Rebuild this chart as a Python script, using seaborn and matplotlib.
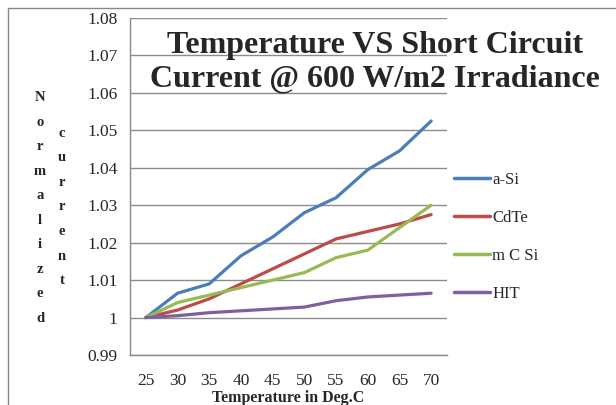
import matplotlib
matplotlib.use("Agg")
import matplotlib.pyplot as plt
import matplotlib.patches as mpatches
import seaborn as sns
import pandas as pd
import numpy as np

temps = [25, 30, 35, 40, 45, 50, 55, 60, 65, 70]
a_si = [1.000, 1.0065, 1.009, 1.0165, 1.0215, 1.028, 1.032, 1.0395, 1.0445, 1.0525]
cdte = [1.000, 1.002, 1.005, 1.009, 1.013, 1.017, 1.021, 1.023, 1.025, 1.0275]
mcsi = [1.000, 1.004, 1.006, 1.008, 1.010, 1.012, 1.016, 1.018, 1.024, 1.030]
hit = [1.000, 1.0005, 1.0013, 1.0018, 1.0023, 1.0028, 1.0045, 1.0055, 1.006, 1.0065]
series_names = ["a-Si", "CdTe", "m C Si", "HIT"]
colors = ["#4A7EBB", "#BE4B48", "#98B954", "#7D60A0"]
yticks = [0.99, 1.0, 1.01, 1.02, 1.03, 1.04, 1.05, 1.06, 1.07, 1.08]
ytick_labels = ["0.99", "1", "1.01", "1.02", "1.03", "1.04", "1.05", "1.06", "1.07", "1.08"]

df = pd.DataFrame({
    "temp": temps * 4,
    "value": a_si + cdte + mcsi + hit,
    "series": sum([[n] * len(temps) for n in series_names], []),
})

sns.set_theme(style="white")
plt.rcParams["font.family"] = ["Liberation Serif", "DejaVu Serif"]

fig = plt.figure(figsize=(6.16, 4.05), dpi=100)
fig.patch.set_facecolor("white")
ax = fig.add_axes([130/616, 1-355/405, (447-130)/616, (355-18)/405])

sns.lineplot(data=df, x="temp", y="value", hue="series", hue_order=series_names,
             palette=colors, linewidth=2.3, ax=ax, legend=False, zorder=3)

ax.set_xlim(22.5, 72.5)
ax.set_ylim(0.99, 1.08)
ax.set_yticks(yticks)
ax.set_yticklabels(ytick_labels, fontsize=12.5)
ax.set_xticks(temps)
ax.set_xticklabels([str(t) for t in temps], fontsize=12.5)
ax.set_xticks(np.arange(22.5, 73, 5), minor=True)
ax.tick_params(axis="x", which="major", length=0, pad=13)
ax.tick_params(axis="x", which="minor", length=5, color="#888888", width=1, direction="out")
ax.tick_params(axis="y", which="major", length=5, color="#888888", width=1, direction="out", pad=4)
ax.yaxis.grid(True, color="#8c8c8c", linewidth=1)
ax.xaxis.grid(False)
for s in ["top", "right"]:
    ax.spines[s].set_visible(False)
for s in ["left", "bottom"]:
    ax.spines[s].set_color("#888888")
    ax.spines[s].set_linewidth(1)
ax.set_xlabel("")
ax.set_ylabel("")

fig.text(288/616, 1-398/405, "Temperature in Deg.C", ha="center", va="center",
         fontsize=11.5, fontweight="bold")

fig.text(375/616, 1-62/405, "Temperature VS Short Circuit\nCurrent @ 600 W/m2 Irradiance",
         ha="center", va="center", fontsize=23, fontweight="bold", linespacing=1.2, zorder=5)

# vertical stacked y label
fig.text(40/616, 1-208/405, "\n".join("Normalized"), ha="center", va="center",
         fontsize=10.5, fontweight="bold", linespacing=2.15)
fig.text(62/616, 1-207/405, "\n".join("current"), ha="center", va="center",
         fontsize=10.5, fontweight="bold", linespacing=2.15)

handles = [plt.Line2D([0], [0], color=c, lw=2.5) for c in colors]
fig.legend(handles, series_names, loc="upper left", bbox_to_anchor=(447/616, 1-165/405),
           frameon=False, fontsize=12, handlelength=2.2, handletextpad=0.12,
           labelspacing=1.32, borderaxespad=0)

fig.patches.append(mpatches.Rectangle((8/616, -0.2), 2, 1.2 - 8/405, transform=fig.transFigure,
                                      fill=False, edgecolor="#888888", linewidth=1))

fig.savefig("out.png", dpi=100)
